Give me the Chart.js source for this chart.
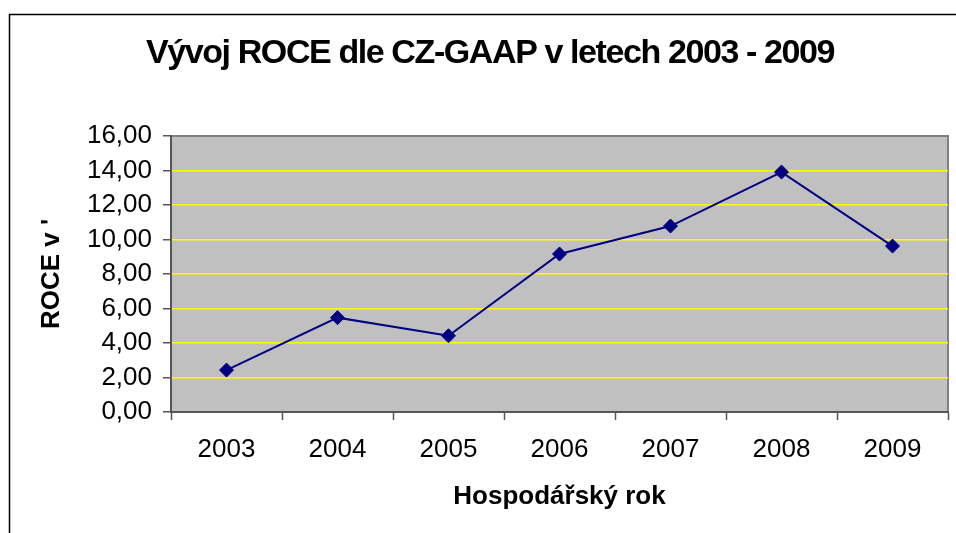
<!DOCTYPE html>
<html>
<head>
<meta charset="utf-8">
<script src="https://cdn.jsdelivr.net/npm/chart.js@4/dist/chart.umd.min.js"></script>
<style>
  html, body { margin: 0; padding: 0; background: #fff; }
  #wrap { width: 956px; height: 533px; }
</style>
</head>
<body>
<div id="wrap"><canvas id="roceChart" width="956" height="533"></canvas></div>
<script>
// data
const roky = ["2003", "2004", "2005", "2006", "2007", "2008", "2009"];
const roce = [2.43, 5.47, 4.42, 9.16, 10.78, 13.91, 9.62];
const yTicks = [0, 2, 4, 6, 8, 10, 12, 14, 16];

const titulek = "Vývoj ROCE dle CZ-GAAP v letech 2003 - 2009";
const font = "'Liberation Sans', Arial, sans-serif";

// pozadi plochy grafu, ramecek a nadpis
const plochaPlugin = {
  id: "plocha",
  beforeDraw(chart) {
    const { ctx, chartArea: a } = chart;
    ctx.save();
    ctx.fillStyle = "#fff";
    ctx.fillRect(0, 0, chart.width, chart.height);
    // vnejsi ramecek
    ctx.strokeStyle = "#000";
    ctx.lineWidth = 1.5;
    ctx.beginPath();
    ctx.moveTo(9.5, chart.height);
    ctx.lineTo(9.5, 14.5);
    ctx.lineTo(chart.width, 14.5);
    ctx.stroke();
    // seda plocha
    ctx.fillStyle = "#C0C0C0";
    ctx.fillRect(a.left, a.top, a.right - a.left, a.bottom - a.top);
    ctx.strokeStyle = "#808080";
    ctx.lineWidth = 2;
    ctx.beginPath();
    ctx.moveTo(a.left, a.top);
    ctx.lineTo(a.right, a.top);
    ctx.lineTo(a.right, a.bottom);
    ctx.stroke();
    // nadpis
    ctx.fillStyle = "#000";
    ctx.font = "bold 34px " + font;
    ctx.letterSpacing = "-1.4px";
    ctx.textAlign = "center";
    ctx.textBaseline = "alphabetic";
    ctx.fillText(titulek, 490, 63);
    ctx.restore();
  }
};

new Chart(document.getElementById("roceChart"), {
  type: "line",
  data: {
    labels: roky,
    datasets: [{
      label: "ROCE",
      data: roce,
      borderColor: "#000080",
      borderWidth: 2,
      backgroundColor: "#000080",
      pointStyle: "rectRot",
      pointRadius: 7,
      pointBorderWidth: 1,
      pointBorderColor: "#000080",
      tension: 0
    }]
  },
  options: {
    responsive: false,
    animation: false,
    layout: { padding: { top: 136, right: 4, bottom: 0, left: 0 } },
    plugins: {
      legend: { display: false },
      tooltip: { enabled: false }
    },
    scales: {
      x: {
        offset: true,
        afterFit(scale) { scale.height = 121; },
        grid: {
          offset: true,
          drawOnChartArea: false,
          drawTicks: true,
          tickLength: 8,
          tickColor: "#555",
          tickWidth: 1.5
        },
        border: { color: "#555", width: 2 },
        ticks: {
          color: "#000",
          padding: 14,
          maxRotation: 0,
          font: { family: font, size: 26 }
        },
        title: {
          display: true,
          text: "Hospodářský rok",
          color: "#000",
          padding: { top: 0, bottom: 21 },
          font: { family: font, size: 26, weight: "bold" }
        }
      },
      y: {
        min: 0,
        max: 16,
        afterFit(scale) { scale.width = 171; },
        afterBuildTicks(scale) { scale.ticks = yTicks.map(v => ({ value: v })); },
        grid: {
          color: c => (c.tick && (c.tick.value === 0 || c.tick.value === 16)) ? "rgba(0,0,0,0)" : "#FFFF00",
          lineWidth: 1.5,
          drawTicks: true,
          tickLength: 8,
          tickColor: "#555",
          tickWidth: 1.5
        },
        border: { color: "#555", width: 2 },
        ticks: {
          color: "#000",
          padding: 11,
          font: { family: font, size: 26 },
          callback: v => v.toFixed(2).replace(".", ",")
        },
        title: {
          display: true,
          text: "ROCE v '",
          color: "#000",
          padding: { top: 36, bottom: 0 },
          font: { family: font, size: 26, weight: "bold" }
        }
      }
    }
  },
  plugins: [plochaPlugin]
});
</script>
</body>
</html>
